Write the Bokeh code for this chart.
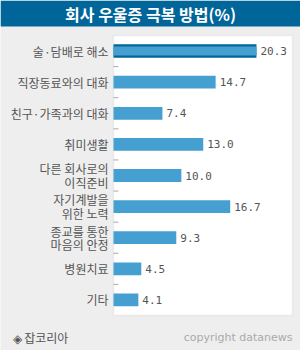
from bokeh.plotting import figure
from bokeh.models import Range1d, Label, BoxAnnotation, ColumnDataSource
from bokeh.core.properties import value
from bokeh.embed import file_html
from bokeh.resources import INLINE

title_text = "회사 우울증 극복 방법(%)"
categories = ["술·담배로 해소", "직장동료와의 대화", "친구·가족과의 대화", "취미생활",
              "다른 회사로의\n이직준비", "자기계발을\n위한 노력", "종교를 통한\n마음의 안정",
              "병원치료", "기타"]
values = [20.3, 14.7, 7.4, 13.0, 10.0, 16.7, 9.3, 4.5, 4.1]
highlight = 0
source_note = "◈ 잡코리아"
copyright_note = "copyright datanews"

# ---- layout (pixels) ----
W, H = 300, 350
BOX_L, BOX_R, BOX_T, BOX_B = 113, 292, 35, 315
TITLE_H = 26
PX_PER_UNIT = 7.29          # value axis scale
AXIS_MIN = 0.69             # value at the left edge of the plot box

n = len(categories)
idx = list(range(n))
row_px = (BOX_B - BOX_T) / n
x0 = AXIS_MIN - BOX_L / PX_PER_UNIT
x1 = AXIS_MIN + (W - BOX_L) / PX_PER_UNIT
axis_max = AXIS_MIN + (BOX_R - BOX_L) / PX_PER_UNIT
y_top = -0.5 - BOX_T / row_px
y_bot = (n - 0.5) + (H - BOX_B) / row_px

p = figure(width=W, height=H, output_backend="svg", toolbar_location=None,
           x_range=Range1d(x0, x1), y_range=Range1d(y_bot, y_top),
           min_border=0, x_axis_location=None, y_axis_location=None)
p.border_fill_color = "#eeeeee"
p.background_fill_color = "#eeeeee"
p.outline_line_color = None
p.grid.visible = False

# plot box
p.add_layout(BoxAnnotation(left=AXIS_MIN, right=axis_max, top=-0.5, bottom=n - 0.5,
                           fill_color="#ffffff", fill_alpha=1.0, line_color="#cccccc",
                           line_width=1.5, level="underlay"))

# title bar (screen units: from the frame's bottom-left, y upward)
p.add_layout(BoxAnnotation(bottom=H - TITLE_H, bottom_units="screen",
                           fill_color="#006699", fill_alpha=1.0, line_color=None))
p.add_layout(Label(x=W / 2, y=H - TITLE_H / 2, x_units="screen", y_units="screen",
                   text=title_text, text_align="center", text_baseline="middle",
                   text_color="#ffffff", text_font="Noto Sans CJK KR", text_font_size="16px",
                   text_font_style="bold"))

# category ticks between rows
bounds = [i + 0.5 for i in idx[:-1]]
p.ray(x=[AXIS_MIN] * len(bounds), y=bounds, length=5, length_units="screen", angle=0,
      line_color="#aaaaaa", line_width=1)

# category labels
p.text(x=[AXIS_MIN] * n, y=idx, text=categories, x_offset=-5, text_align="right",
       text_baseline="middle", text_font=value("Noto Sans CJK KR"), text_font_size="12px",
       text_color="#555555", text_line_height=0.78)

# bars: highlighted one has a dark band behind a thinner light band
p.hbar(y=[idx[highlight]], left=AXIS_MIN, right=[values[highlight]], height=0.43,
       fill_color="#006699", line_color=None)
heights = [0.29 if i == highlight else 0.41 for i in idx]
src = ColumnDataSource(dict(y=idx, v=values, h=heights, t=["%.1f" % v for v in values]))
p.hbar(y="y", left=AXIS_MIN, right="v", height="h", source=src, fill_color="#469fd1",
       line_color=None)
p.text(x="v", y="y", text="t", source=src, x_offset=4, text_baseline="middle",
       text_font=value("DejaVu Sans Mono"), text_font_size="11px", text_color="#555555")

# footer
p.add_layout(Label(x=12, y=H - 337, x_units="screen", y_units="screen", text=source_note,
                   text_align="left", text_baseline="middle", text_color="#555555",
                   text_font="Noto Sans CJK KR", text_font_size="12px"))
p.add_layout(Label(x=BOX_R, y=H - 337, x_units="screen", y_units="screen",
                   text=copyright_note, text_align="right", text_baseline="middle",
                   text_color="#aaaaaa", text_font="DejaVu Sans", text_font_size="11px"))

open("out.html", "w").write(file_html(p, INLINE))
